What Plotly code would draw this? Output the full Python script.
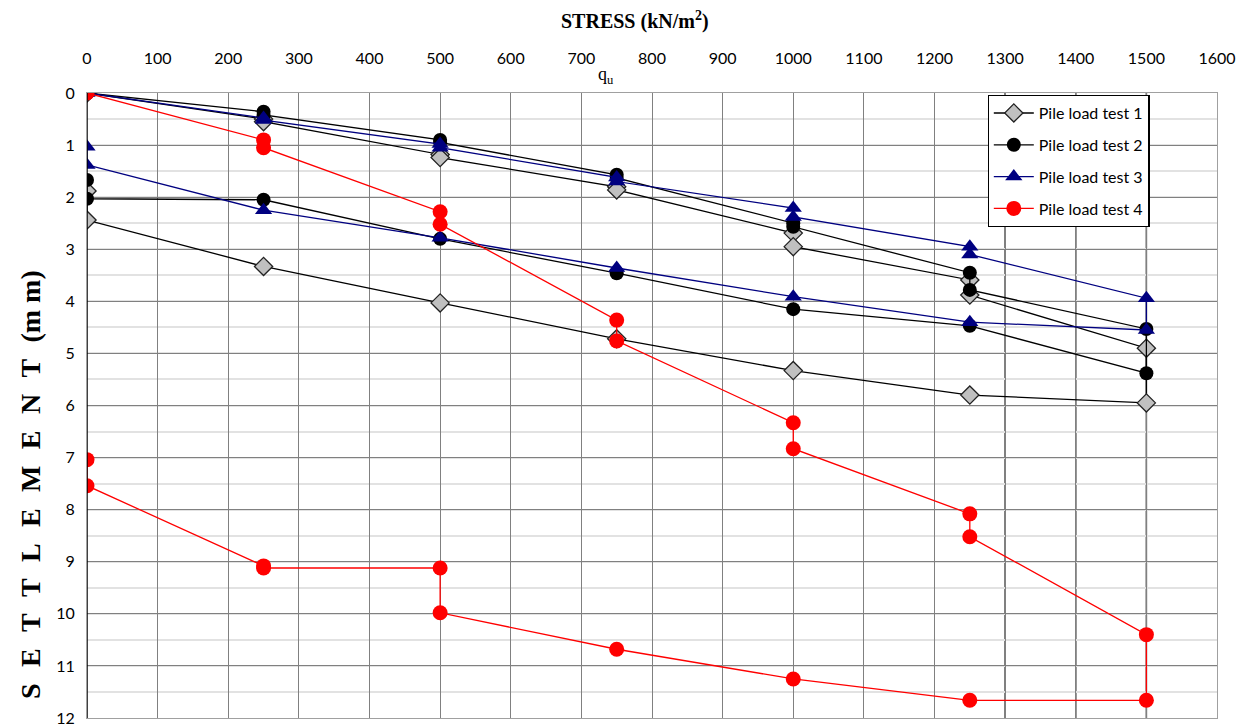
import plotly.graph_objects as go

# Stress (kN/m2) and settlement (mm) for each pile load test (loading + holding + unloading)
stress_1 = [0, 250, 250, 500, 500, 750, 750, 1000, 1000, 1250, 1250, 1500, 1500, 1250, 1000, 750, 500, 250, 0, 0]
settle_1 = [0, 0.50, 0.55, 1.18, 1.24, 1.80, 1.86, 2.69, 2.95, 3.59, 3.88, 4.90, 5.95, 5.80, 5.33, 4.72, 4.03, 3.33, 2.44, 1.88]

stress_2 = [0, 250, 250, 500, 500, 750, 750, 1000, 1000, 1250, 1250, 1500, 1500, 1250, 1000, 750, 500, 250, 0, 0]
settle_2 = [0, 0.36, 0.42, 0.90, 0.95, 1.57, 1.63, 2.50, 2.57, 3.45, 3.78, 4.53, 5.38, 4.47, 4.15, 3.46, 2.80, 2.05, 2.03, 1.67]

stress_3 = [0, 250, 250, 500, 500, 750, 750, 1000, 1000, 1250, 1250, 1500, 1500, 1250, 1000, 750, 500, 250, 0, 0]
settle_3 = [0, 0.48, 0.52, 0.98, 1.05, 1.62, 1.70, 2.21, 2.38, 2.95, 3.10, 3.94, 4.55, 4.40, 3.91, 3.36, 2.78, 2.25, 1.38, 1.03]

stress_4 = [0, 250, 250, 500, 500, 750, 750, 1000, 1000, 1250, 1250, 1500, 1500, 1250, 1000, 750, 500, 500, 250, 250, 0, 0]
settle_4 = [0, 0.90, 1.05, 2.28, 2.52, 4.36, 4.76, 6.33, 6.83, 8.08, 8.52, 10.40, 11.66, 11.66, 11.25, 10.68, 9.98, 9.12, 9.12, 9.08, 7.54, 7.04]

series_names = ["Pile load test 1", "Pile load test 2", "Pile load test 3", "Pile load test 4"]

x_ticks = list(range(0, 1601, 100))
y_ticks = list(range(0, 13))

fig = go.Figure()

styles = [
    dict(line=dict(color="black", width=1.3),
         marker=dict(symbol="diamond", size=14, color="#c0c0c0", line=dict(color="#222", width=1.3))),
    dict(line=dict(color="black", width=1.3),
         marker=dict(symbol="circle", size=14, color="black", line=dict(color="black", width=0))),
    dict(line=dict(color="#000080", width=1.3),
         marker=dict(symbol="triangle-up", size=15, color="#000080", line=dict(color="#000080", width=0))),
    dict(line=dict(color="red", width=1.3),
         marker=dict(symbol="circle", size=15, color="red", line=dict(color="red", width=0))),
]

data = [(stress_1, settle_1), (stress_2, settle_2), (stress_3, settle_3), (stress_4, settle_4)]
for i, ((xs, ys), name, st) in enumerate(zip(data, series_names, styles)):
    fig.add_trace(go.Scatter(x=xs, y=ys, mode="lines+markers", name=name,
                             legendgroup=f"g{i}", **st))

# darker reference lines seen in the original
for yv in [1, 2]:
    fig.add_shape(type="line", xref="x", yref="y", x0=0, x1=1600, y0=yv, y1=yv,
                  line=dict(color="#222", width=1.2), layer="below")
for xv in [1300, 1400, 1500]:
    fig.add_shape(type="line", xref="x", yref="y", x0=xv, x1=xv, y0=0, y1=12,
                  line=dict(color="#333", width=1.5), layer="below")

tick_font = dict(family="Lato, Open Sans, sans-serif", size=16, color="black")
fig.update_xaxes(side="top", range=[0, 1600], tickvals=x_ticks, showgrid=True,
                 gridcolor="#808080", gridwidth=1, zeroline=False,
                 showline=True, linecolor="#a0a0a0", mirror=True,
                 tickfont=tick_font, ticks="", automargin=False,
                 ticklabelstandoff=22)
fig.update_yaxes(range=[12, 0], tickvals=y_ticks, showgrid=True,
                 gridcolor="#808080", gridwidth=1, zeroline=False,
                 showline=True, linecolor="#a0a0a0", mirror=True,
                 minor=dict(dtick=0.5, showgrid=True, gridcolor="#e2e2e2", gridwidth=1.5),
                 tickfont=tick_font, ticks="", automargin=False,
                 ticklabelstandoff=8)

fig.add_shape(type="line", xref="x", yref="y", x0=0, x1=0, y0=0, y1=12,
              line=dict(color="black", width=1.5))

serif = "Liberation Serif, Times New Roman, serif"
fig.add_annotation(text="<b>STRESS (kN/m<sup>2</sup>)</b>", xref="paper", yref="paper",
                   x=0.485, y=1, yanchor="middle", yshift=73, showarrow=False,
                   font=dict(family=serif, size=20, color="black"))
fig.add_annotation(text="q<sub>u</sub>", xref="x", yref="paper", x=735, y=1,
                   yanchor="middle", yshift=18, showarrow=False,
                   font=dict(family=serif, size=18, color="black"))
sp = "\u2002\u200a"
ytitle = sp.join("SETTLEMENT") + sp + "(m m)"
fig.add_annotation(text="<b>" + ytitle + "</b>", xref="paper", yref="paper",
                   x=0, xanchor="center", xshift=-56, y=0.373, yanchor="middle",
                   textangle=-90, showarrow=False,
                   font=dict(family=serif, size=28, color="black"))

fig.update_layout(
    width=1238, height=720,
    margin=dict(l=79, r=29, t=85, b=10),
    plot_bgcolor="white", paper_bgcolor="white",
    showlegend=True,
    legend=dict(x=0.797, y=0.997, xanchor="left", yanchor="top",
                bgcolor="white", bordercolor="black", borderwidth=1.2,
                font=dict(family="Lato, Open Sans, sans-serif", size=16, color="black"),
                itemwidth=40, tracegroupgap=8),
)

fig.write_html("out.html")
